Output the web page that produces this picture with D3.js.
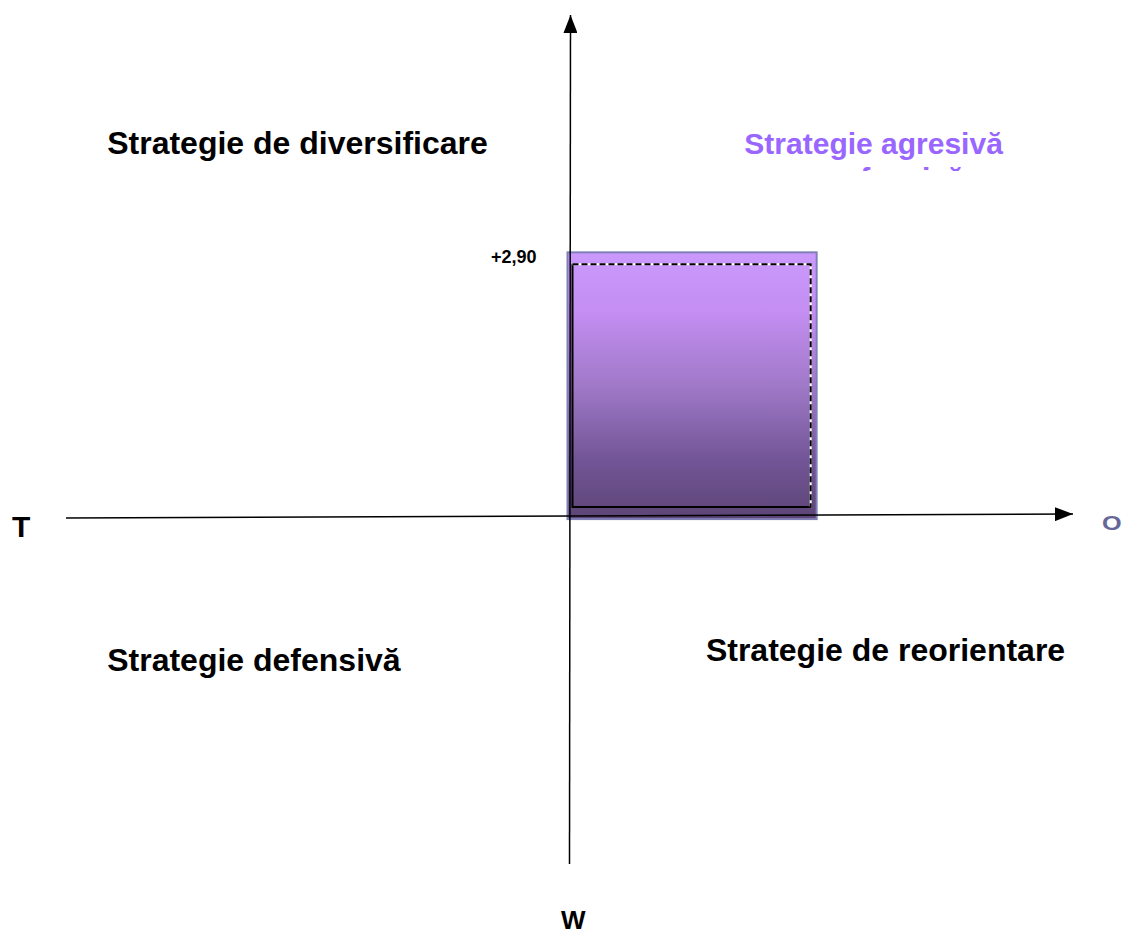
<!DOCTYPE html>
<html>
<head>
<meta charset="utf-8">
<script src="https://cdn.jsdelivr.net/npm/d3@7"></script>
<style>
  body { margin: 0; background: #fff; }
  text { font-family: "Liberation Sans", Arial, sans-serif; font-weight: bold; }
</style>
</head>
<body>
<div id="vis"></div>
<script>
// SWOT position: O (x) and S (y) scores
var axisNames = ["T", "O", "W"];
var quadrantLabels = ["Strategie de diversificare", "Strategie agresivă", "Strategie defensivă", "Strategie de reorientare"];
var quadrantX = [-5.05, 1.91, -5.05, 1.49];
var quadrantY = [3.98, 3.98, -1.69, -1.58];
var scoreO = 2.70;
var scoreS = 2.90;
var scoreLabel = "+2,90";

var width = 1125,
    height = 935;

var svg = d3.select("#vis").append("svg")
    .attr("width", width)
    .attr("height", height);

var x = d3.scaleLinear().domain([-5.5, 5.5]).range([66, 1073]);
var y = d3.scaleLinear().domain([-3.8, 5.5]).range([864, 15]);

var defs = svg.append("defs");
var grad = defs.append("linearGradient")
    .attr("id", "fill")
    .attr("x1", 0).attr("y1", 0).attr("x2", 0).attr("y2", 1);
[[0, "#cb99fc"], [0.22, "#c48ef2"], [0.5, "#a079c8"], [0.78, "#725596"], [1, "#5d4576"]]
  .forEach(function (s) {
    grad.append("stop").attr("offset", s[0]).attr("stop-color", s[1]);
  });

defs.append("marker")
    .attr("id", "arrow")
    .attr("viewBox", "0 0 18 14")
    .attr("refX", 18).attr("refY", 7)
    .attr("markerWidth", 18).attr("markerHeight", 14)
    .attr("markerUnits", "userSpaceOnUse")
    .attr("orient", "auto")
  .append("path")
    .attr("d", "M0,0 L18,7 L0,14 Z")
    .attr("fill", "#000");

defs.append("clipPath").attr("id", "cut")
  .append("rect").attr("x", 0).attr("y", 0).attr("width", width).attr("height", 171);

// score square
svg.append("rect")
    .attr("x", x(0) - 2)
    .attr("y", y(scoreS))
    .attr("width", x(scoreO) - x(0) + 2)
    .attr("height", y(0) - y(scoreS) + 2)
    .attr("fill", "url(#fill)")
    .attr("stroke", "#8080b8")
    .attr("stroke-width", 2);

var ix0 = x(0) + 3, ix1 = x(scoreO) - 6,
    iy0 = y(scoreS) + 12, iy1 = y(0) - 10;

svg.append("path")
    .attr("d", "M" + ix0 + "," + iy0 + "V" + iy1 + "H" + ix1)
    .attr("fill", "none").attr("stroke", "#000").attr("stroke-width", 2);
svg.append("path")
    .attr("d", "M" + ix0 + "," + iy0 + "H" + ix1 + "V" + iy1)
    .attr("fill", "none").attr("stroke", "#fff").attr("stroke-width", 2);
svg.append("path")
    .attr("d", "M" + ix0 + "," + iy0 + "H" + ix1 + "V" + iy1)
    .attr("fill", "none").attr("stroke", "#000").attr("stroke-width", 2)
    .attr("stroke-dasharray", "6,3");

// axes
svg.append("line")
    .attr("x1", x(-5.5)).attr("y1", y(0) + 1)
    .attr("x2", x(5.5)).attr("y2", y(0) - 3)
    .attr("stroke", "#000").attr("stroke-width", 1.5)
    .attr("marker-end", "url(#arrow)");
svg.append("line")
    .attr("x1", x(0)).attr("y1", y(-3.8))
    .attr("x2", x(0) + 1).attr("y2", y(5.5))
    .attr("stroke", "#000").attr("stroke-width", 1.5)
    .attr("marker-end", "url(#arrow)");

// axis names
svg.append("text").attr("x", 12).attr("y", 537)
    .style("font-size", "30px").attr("fill", "#000").text(axisNames[0]);
svg.append("text").attr("x", 1102).attr("y", 530)
    .attr("transform", "translate(1102,530) scale(1.2,1) translate(-1102,-530)")
    .style("font-size", "21px").attr("fill", "#666699").text(axisNames[1]);
svg.append("text").attr("x", 561).attr("y", 929)
    .style("font-size", "26px").attr("fill", "#000").text(axisNames[2]);

svg.append("text")
    .attr("x", x(0) - 33).attr("y", y(scoreS) + 11)
    .attr("text-anchor", "end")
    .style("font-size", "18px")
    .text(scoreLabel);

// quadrant labels
svg.selectAll(".quad")
    .data(quadrantLabels)
    .enter().append("text")
    .attr("class", "quad")
    .attr("x", function (d, i) { return x(quadrantX[i]); })
    .attr("y", function (d, i) { return y(quadrantY[i]); })
    .style("font-size", function (d, i) { return i == 1 ? "30px" : "32px"; })
    .attr("fill", function (d, i) { return i == 1 ? "#9966ff" : "#000"; })
    .text(function (d) { return d; });

// clipped second line of the purple label
svg.append("text")
    .attr("clip-path", "url(#cut)")
    .attr("x", 842).attr("y", 189)
    .style("font-size", "30px")
    .attr("fill", "#9966ff")
    .text("ofensivă");
</script>
</body>
</html>
